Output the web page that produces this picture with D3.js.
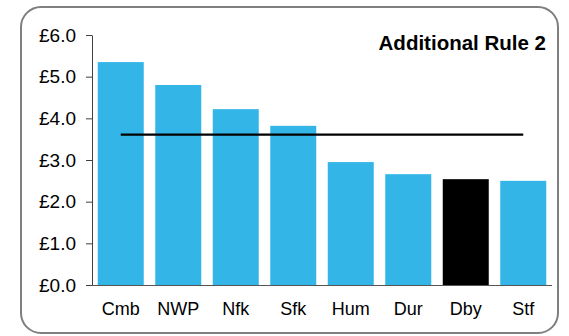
<!DOCTYPE html>
<html><head><meta charset="utf-8">
<script src="https://cdn.jsdelivr.net/npm/d3@7"></script>
<style>html,body{margin:0;padding:0;background:#fff;}svg{display:block;font-family:Arial,"Liberation Sans",sans-serif;}</style>
</head><body>
<svg id="c" width="569" height="336"></svg>
<script>
const categories = ["Cmb","NWP","Nfk","Sfk","Hum","Dur","Dby","Stf"];
const values = [5.35, 4.80, 4.22, 3.82, 2.95, 2.66, 2.54, 2.50];
const highlight = ["Dby"];
const averageLine = 3.61;
const yTicks = [0,1,2,3,4,5,6];
const title = "Additional Rule 2";

const svg = d3.select("#c");
svg.append("rect").attr("x",21).attr("y",7).attr("width",537).attr("height",326)
  .attr("rx",20).attr("ry",20).attr("fill","#fff").attr("stroke","#7f7f7f").attr("stroke-width",2);

const x = d3.scaleBand().domain(categories).range([92,552]).paddingInner(0.2).paddingOuter(0.1);
const y = d3.scaleLinear().domain([0,6]).range([285,35]);

svg.selectAll("rect.bar").data(categories).join("rect").attr("class","bar")
  .attr("x",d=>x(d)).attr("width",x.bandwidth())
  .attr("y",(d,i)=>y(values[i])).attr("height",(d,i)=>y(0)-y(values[i]))
  .attr("fill",d=>highlight.includes(d)?"#000":"#33b6e7");

const yAxis = svg.append("g").attr("transform","translate(92,0)")
  .call(d3.axisLeft(y).tickValues(yTicks).tickFormat(d=>"£"+d.toFixed(1)).tickSize(6).tickSizeOuter(0).tickPadding(10));
yAxis.select(".domain").attr("stroke","#404040");
yAxis.selectAll(".tick line").attr("stroke","#404040");
yAxis.selectAll("text").attr("font-size",19).attr("fill","#000").attr("font-family","Arial,'Liberation Sans',sans-serif");

const xAxis = svg.append("g").attr("transform","translate(0,285)")
  .call(d3.axisBottom(x).tickSize(0).tickPadding(17));
xAxis.select(".domain").attr("stroke","#555").attr("d","M92,0.5H552");
xAxis.selectAll("text").attr("font-size",18).attr("fill","#000").attr("font-family","Arial,'Liberation Sans',sans-serif");

svg.append("line")
  .attr("x1",x(categories[0])+x.bandwidth()/2).attr("x2",x(categories[categories.length-1])+x.bandwidth()/2)
  .attr("y1",y(averageLine)).attr("y2",y(averageLine)).attr("stroke","#000").attr("stroke-width",2.2);

svg.append("text").attr("x",546).attr("y",50).attr("text-anchor","end")
  .attr("font-weight","bold").attr("font-size",20.5).attr("fill","#000").text(title);
</script>
</body></html>
